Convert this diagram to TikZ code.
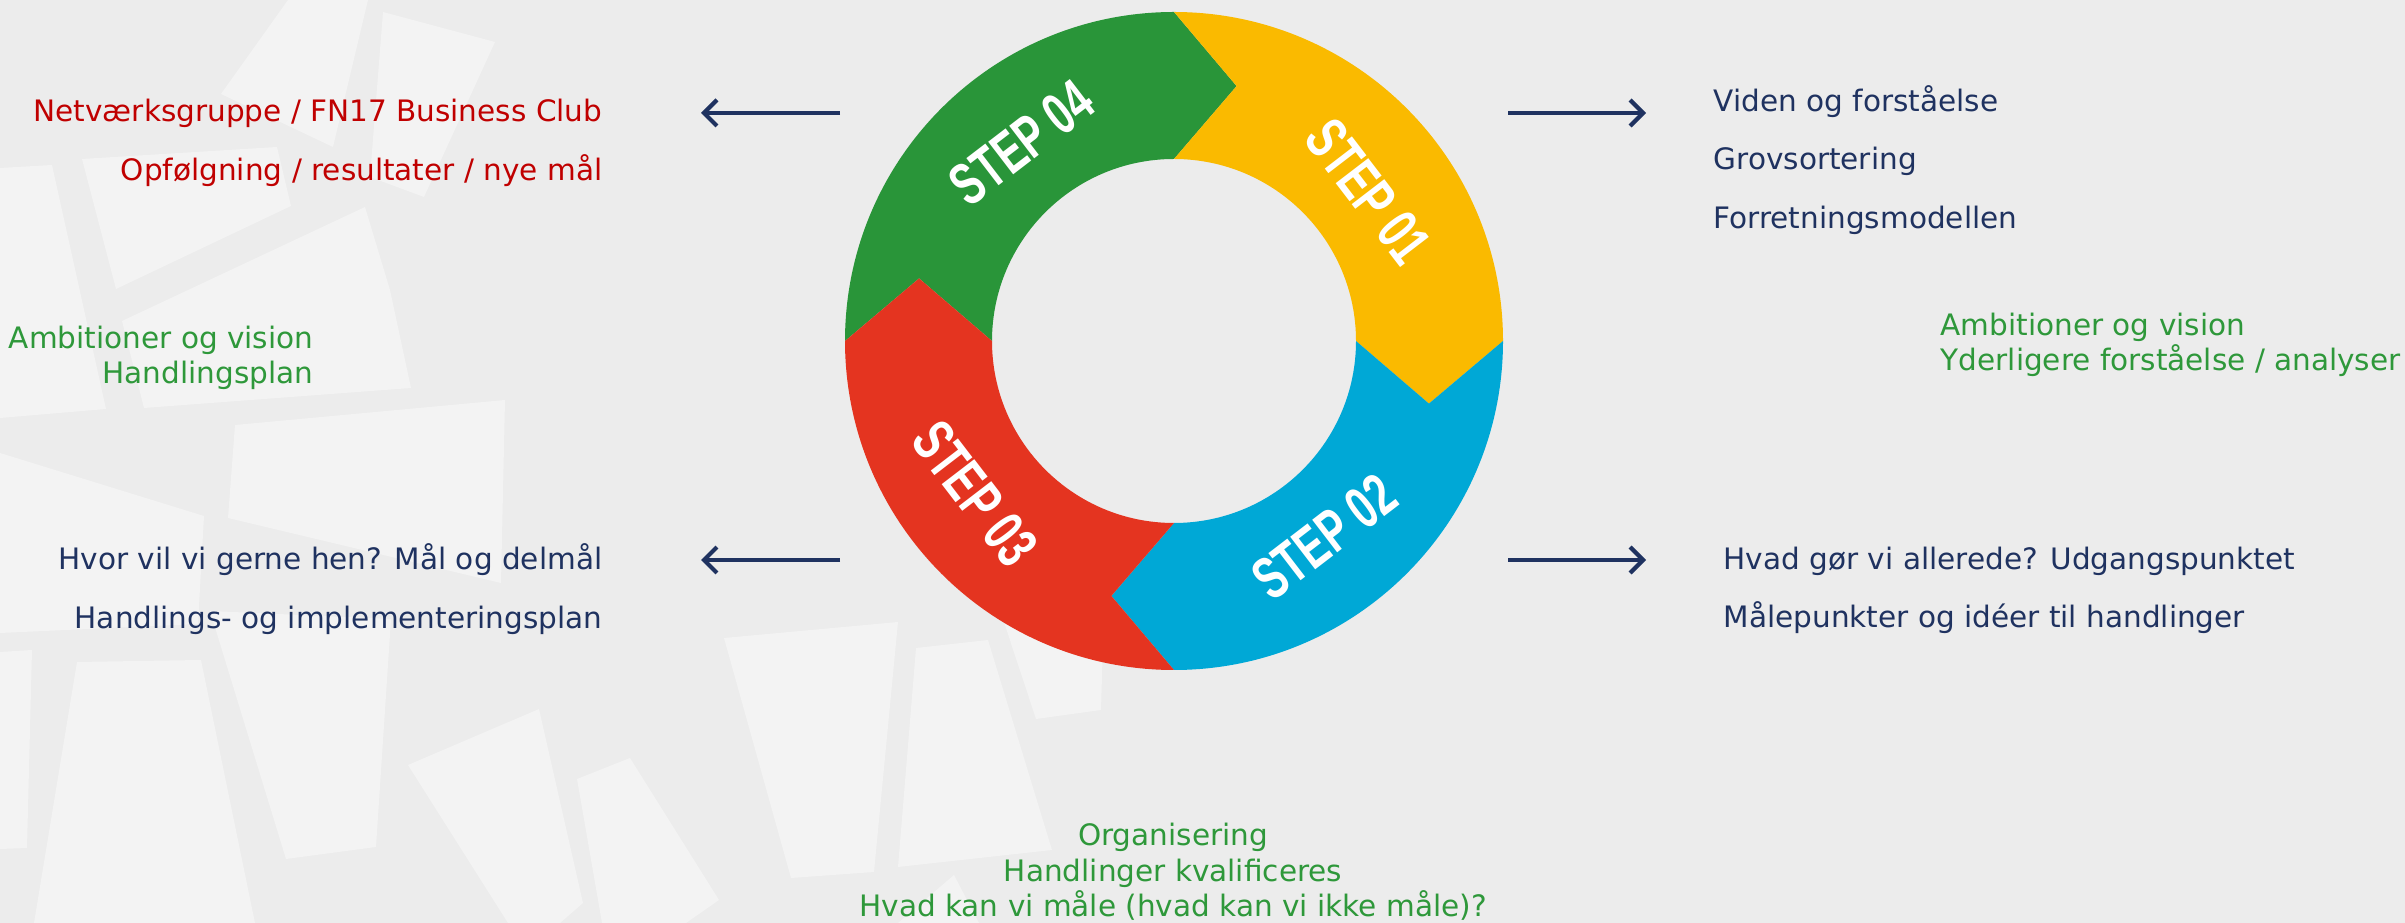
\documentclass[tikz,border=0pt]{standalone}
\usepackage{fontspec}
\usepackage{graphicx}
\setmainfont{DejaVu Sans}
\newfontfamily\stepfont{Liberation Sans}
\usetikzlibrary{arrows.meta,positioning,calc}
\definecolor{bggray}{RGB}{236,236,236}
\definecolor{patchgray}{RGB}{243,243,243}
\definecolor{stepgreen}{RGB}{41,149,57}
\definecolor{stepyellow}{RGB}{250,186,0}
\definecolor{stepblue}{RGB}{0,168,214}
\definecolor{stepred}{RGB}{228,52,32}
\definecolor{navy}{RGB}{31,50,96}
\definecolor{darkred}{RGB}{192,0,0}
\definecolor{txtgreen}{RGB}{46,152,58}
\newcommand{\steptxt}[1]{\scalebox{0.68}[1]{#1}}
\tikzset{
    txt/.style={
        inner sep=0pt,
        font=\fontsize{8.4}{10.1}\selectfont,
    },
    oneline/.style={
        txt,
        text height=6.6pt,
        text depth=1.6pt,
    },
    redtxt/.style={oneline, text=darkred},
    navytxt/.style={oneline, text=navy},
    greentxt/.style={txt, text=txtgreen},
    steplabel/.style={
        inner sep=0pt,
        text=white,
        font=\stepfont\bfseries\fontsize{17}{17}\selectfont,
    },
    pointer/.style={
        draw=navy,
        line width=1.2pt,
        -{Straight Barb[length=1.3mm,width=2.6mm]},
    },
    patch/.style={fill=patchgray},
}

\begin{document}
\begin{tikzpicture}[x=0.1mm,y=0.1mm]
    \useasboundingbox (0,0) rectangle (2405,923);
    \fill[bggray] (0,0) rectangle (2405,923);
    \fill[patch] (221,829) -- (288,923) -- (368,923) -- (333,776) -- cycle;
    \fill[patch] (383,911) -- (495,881) -- (424,726) -- (370,746) -- cycle;
    \fill[patch] (0,755) -- (52,758) -- (106,514) -- (0,505) -- cycle;
    \fill[patch] (82,764) -- (277,776) -- (291,717) -- (116,634) -- cycle;
    \fill[patch] (122,602) -- (365,716) -- (390,633) -- (411,535) -- (144,515) -- cycle;
    \fill[patch] (235,498) -- (505,523) -- (501,340) -- (228,405) -- cycle;
    \fill[patch] (0,470) -- (204,407) -- (198,299) -- (0,290) -- cycle;
    \fill[patch] (0,271) -- (32,273) -- (27,75) -- (0,74) -- cycle;
    \fill[patch] (77,261) -- (201,263) -- (255,0) -- (34,0) -- cycle;
    \fill[patch] (210,312) -- (391,304) -- (376,76) -- (286,64) -- cycle;
    \fill[patch] (408,158) -- (539,214) -- (583,20) -- (560,0) -- (508,0) -- cycle;
    \fill[patch] (577,144) -- (630,165) -- (719,23) -- (686,0) -- (602,0) -- cycle;
    \fill[patch] (724,285) -- (898,301) -- (874,51) -- (791,45) -- cycle;
    \fill[patch] (916,275) -- (988,283) -- (1052,73) -- (898,56) -- cycle;
    \fill[patch] (1000,313) -- (1103,283) -- (1101,213) -- (1036,204) -- cycle;
    \fill[patch] (898,0) -- (954,48) -- (979,0) -- cycle;

    \coordinate (ctr) at (1174,582);
    \foreach \a/\c in {180/stepgreen, 90/stepyellow, 0/stepblue, -90/stepred}
        \fill[\c, shift={(ctr)}] (\a:329) arc[start angle=\a, end angle=\a-90, radius=329]
            -- (\a-103.8:262.5) -- (\a-90:182) arc[start angle=\a-90, end angle=\a, radius=182]
            -- (\a-13.8:262.5) -- cycle;
    \node[steplabel, rotate=37.5] (s4) at ($(ctr)+(127.5:250)$) {\steptxt{STEP 04}};
    \node[steplabel, rotate=-52.5] (s1) at ($(ctr)+(37.5:245)$) {\steptxt{STEP 01}};
    \node[steplabel, rotate=37.5] (s2) at ($(ctr)+(-52.5:247)$) {\steptxt{STEP 02}};
    \node[steplabel, rotate=-52.5] (s3) at ($(ctr)+(217.5:251)$) {\steptxt{STEP 03}};

    \node[redtxt, anchor=east] (net) at (603,810) {Netværksgruppe / FN17 Business Club};
    \node[redtxt] (opf) [below=5.9mm of net.east, anchor=east] {Opfølgning / resultater / nye mål};
    \node[greentxt, align=right, anchor=east] (ambl) at (314,565) {Ambitioner og vision\\Handlingsplan};
    \node[navytxt, anchor=east] (hvor) at (603,362) {Hvor vil vi gerne hen? Mål og delmål};
    \node[navytxt] (impl) [below=5.9mm of hvor.east, anchor=east] {Handlings- og implementeringsplan};

    \node[navytxt, anchor=west] (viden) at (1713,820) {Viden og forståelse};
    \node[navytxt] (grov) [below=5.8mm of viden.west, anchor=west] {Grovsortering};
    \node[navytxt] (forr) [below=5.9mm of grov.west, anchor=west] {Forretningsmodellen};
    \node[greentxt, align=left, anchor=west] (ambr) at (1940,578) {Ambitioner og vision\\Yderligere forståelse / analyser};
    \node[navytxt, anchor=west] (udg) at (1723,362) {Hvad gør vi allerede? Udgangspunktet};
    \node[navytxt] (maal) [below=5.8mm of udg.west, anchor=west] {Målepunkter og idéer til handlinger};

    \node[greentxt, align=center] (org) at (1173,51) {Organisering\\Handlinger kvalificeres\\Hvad kan vi måle (hvad kan vi ikke måle)?};

    \coordinate (l4a) at (840,810);  \coordinate (l4b) at (701,810);
    \coordinate (l3a) at (840,363);  \coordinate (l3b) at (701,363);
    \coordinate (r1a) at (1508,810); \coordinate (r1b) at (1646,810);
    \coordinate (r2a) at (1508,363); \coordinate (r2b) at (1646,363);
    \draw[pointer] (l4a) -- (l4b);
    \draw[pointer] (l3a) -- (l3b);
    \draw[pointer] (r1a) -- (r1b);
    \draw[pointer] (r2a) -- (r2b);
\end{tikzpicture}
\end{document}
